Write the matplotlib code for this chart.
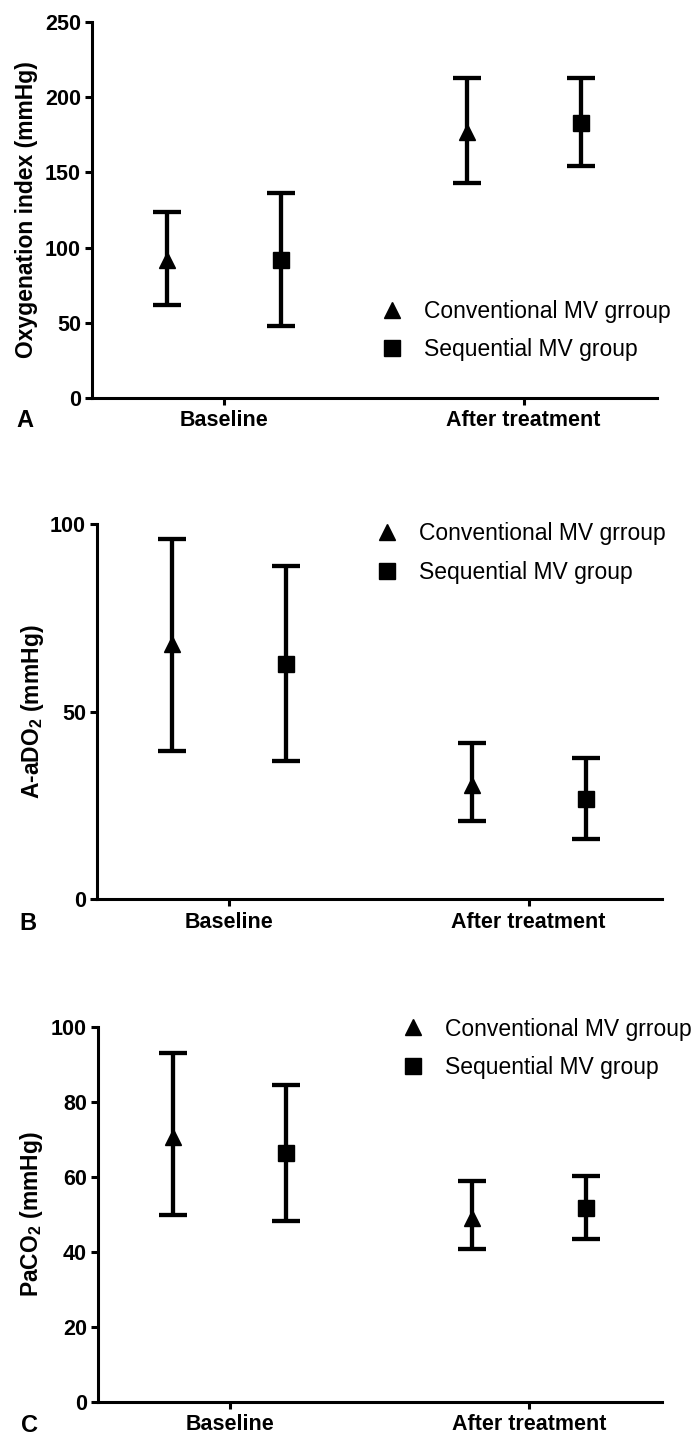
import matplotlib
matplotlib.use("Agg")
import matplotlib.pyplot as plt
from matplotlib.lines import Line2D
import numpy as np

plt.rcParams['font.family'] = ['Liberation Sans', 'DejaVu Sans']
plt.rcParams['mathtext.fontset'] = 'custom'
plt.rcParams['mathtext.rm'] = 'Liberation Sans:bold'
plt.rcParams['mathtext.it'] = 'Liberation Sans:bold'
plt.rcParams['mathtext.bf'] = 'Liberation Sans:bold'

categories = ['Baseline', 'After treatment']
series_names = ['Conventional MV grroup', 'Sequential MV group']

# Panel A: Oxygenation index
A_conv_mean = [92, 177]
A_conv_low = [62, 143]
A_conv_high = [124, 213]
A_seq_mean = [92, 183]
A_seq_low = [48, 154]
A_seq_high = [136, 213]

# Panel B: A-aDO2
B_conv_mean = [68, 30.5]
B_conv_low = [39.6, 20.9]
B_conv_high = [96.2, 41.6]
B_seq_mean = [62.7, 26.7]
B_seq_low = [36.9, 16.0]
B_seq_high = [88.9, 37.6]

# Panel C: PaCO2
C_conv_mean = [70.7, 49.0]
C_conv_low = [49.8, 40.6]
C_conv_high = [93.1, 58.9]
C_seq_mean = [66.4, 51.6]
C_seq_low = [48.3, 43.3]
C_seq_high = [84.4, 60.2]

A_ticks = [0, 50, 100, 150, 200, 250]
B_ticks = [0, 50, 100]
C_ticks = [0, 20, 40, 60, 80, 100]

W, H = 699, 1437
fig = plt.figure(figsize=(W / 100, H / 100), dpi=100)

def px_axes(l, r, t, b):
    return fig.add_axes([l / W, 1 - b / H, (r - l) / W, (b - t) / H])

panels = [
    dict(box=(92, 657, 22, 398), conv=(A_conv_mean, A_conv_low, A_conv_high),
         seq=(A_seq_mean, A_seq_low, A_seq_high), ticks=A_ticks, ylim=250,
         ylabel='Oxygenation index (mmHg)', letter='A', letter_xy=(25, 421),
         leg=(0.5106, 0.261), lpad=5),
    dict(box=(97, 662, 524.3, 899.3), conv=(B_conv_mean, B_conv_low, B_conv_high),
         seq=(B_seq_mean, B_seq_low, B_seq_high), ticks=B_ticks, ylim=100,
         ylabel='A-aDO$_2$ (mmHg)', letter='B', letter_xy=(28, 923),
         leg=(0.493, 1.005), lpad=3),
    dict(box=(98, 662, 1026.7, 1401.7), conv=(C_conv_mean, C_conv_low, C_conv_high),
         seq=(C_seq_mean, C_seq_low, C_seq_high), ticks=C_ticks, ylim=100,
         ylabel='PaCO$_2$ (mmHg)', letter='C', letter_xy=(30, 1425),
         leg=(0.538, 1.0245), lpad=4),
]

offset = 0.19
x = np.arange(len(categories))
lw_err = 3.1
lw_ax = 2.2

for p in panels:
    ax = px_axes(*p['box'])
    for (mean, low, high), dx, mk in [(p['conv'], -offset, '^'), (p['seq'], offset, 's')]:
        mean = np.array(mean); low = np.array(low); high = np.array(high)
        ax.errorbar(x + dx, mean, yerr=[mean - low, high - mean], fmt=mk,
                    color='black', ms=12, elinewidth=lw_err, capsize=10,
                    capthick=lw_err, clip_on=False)
    ax.set_xlim(-0.44, 1.445)
    ax.set_ylim(0, p['ylim'])
    ax.set_yticks(p['ticks'])
    ax.set_xticks(x)
    ax.set_xticklabels(categories, fontsize=15.5, fontweight='bold')
    for lab in ax.get_yticklabels():
        lab.set_fontsize(15.5)
        lab.set_fontweight('bold')
    ax.set_ylabel(p['ylabel'], fontsize=16.5, fontweight='bold', labelpad=p['lpad'])
    for s in ['top', 'right']:
        ax.spines[s].set_visible(False)
    for s in ['left', 'bottom']:
        ax.spines[s].set_linewidth(lw_ax)
    ax.tick_params(axis='both', width=lw_ax, length=5, direction='out')
    ax.tick_params(axis='y', pad=3)
    ax.tick_params(axis='x', pad=4)
    handles = [Line2D([], [], marker='^', color='black', ls='none', ms=12),
               Line2D([], [], marker='s', color='black', ls='none', ms=11)]
    ax.legend(handles, series_names, loc='upper left', bbox_to_anchor=p['leg'],
              frameon=False, fontsize=16.5, handlelength=1.0, handletextpad=0.91,
              borderpad=0, borderaxespad=0, labelspacing=0.67)
    fig.text(p['letter_xy'][0] / W, 1 - p['letter_xy'][1] / H, p['letter'],
             fontsize=17, fontweight='bold', ha='center', va='center')

fig.savefig('out.png', dpi=100)
